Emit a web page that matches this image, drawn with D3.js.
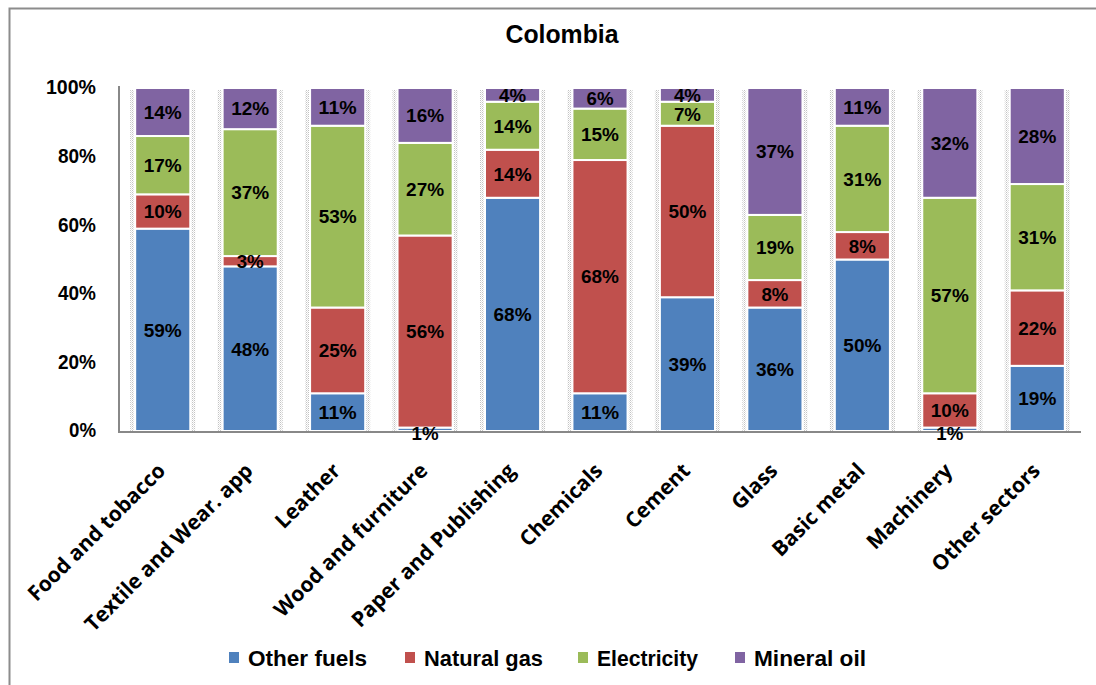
<!DOCTYPE html>
<html>
<head>
<meta charset="utf-8">
<script src="https://cdn.jsdelivr.net/npm/d3@7"></script>
<style>
  body { margin: 0; background: #fff; }
  svg { display: block; }
  text { font-family: "Liberation Sans", Arial, sans-serif; font-weight: bold; fill: #000; }
</style>
</head>
<body>
<svg id="chart" width="1096" height="685"></svg>
<script>
// Energy consumption shares by industrial sector, Colombia
const sectors = ["Food and tobacco", "Textile and Wear. app", "Leather", "Wood and furniture",
  "Paper and Publishing", "Chemicals", "Cement", "Glass", "Basic metal", "Machinery", "Other sectors"];
const seriesNames = ["Other fuels", "Natural gas", "Electricity", "Mineral oil"];
const otherFuels  = [59, 48, 11, 1, 68, 11, 39, 36, 50, 1, 19];
const naturalGas  = [10, 3, 25, 56, 14, 68, 50, 8, 8, 10, 22];
const electricity = [17, 37, 53, 27, 14, 15, 7, 19, 31, 57, 31];
const mineralOil  = [14, 12, 11, 16, 4, 6, 4, 37, 11, 32, 28];
const yTicks = [0, 20, 40, 60, 80, 100];
const colors = ["#4F81BD", "#C0504D", "#9BBB59", "#8064A2"];

const seriesValues = [otherFuels, naturalGas, electricity, mineralOil];
const rows = sectors.map((s, i) => {
  const r = { sector: s };
  seriesNames.forEach((n, k) => { r[n] = seriesValues[k][i]; });
  return r;
});

const svg = d3.select("#chart");
const plot = { left: 119, right: 1081, top: 88, bottom: 432 };

// narrow bold lettering: squeeze text to a width per character count
const narrowWidth = { 2: 27, 3: 38, 4: 50 };
function squeeze(sel) {
  sel.each(function () {
    const w = narrowWidth[this.textContent.length];
    if (w) d3.select(this).attr("textLength", w).attr("lengthAdjust", "spacingAndGlyphs");
  });
}

// chart frame
svg.append("rect").attr("x", 9.5).attr("y", 8.5).attr("width", 1100).attr("height", 700)
  .attr("fill", "none").attr("stroke", "#8c8c8c").attr("stroke-width", 2);

// dotted shading pattern beside each bar
const defs = svg.append("defs");
const pat = defs.append("pattern").attr("id", "dots").attr("patternUnits", "userSpaceOnUse")
  .attr("width", 2).attr("height", 2);
pat.append("rect").attr("width", 1).attr("height", 1).attr("fill", "#c4c4c4");
pat.append("rect").attr("x", 1).attr("y", 1).attr("width", 1).attr("height", 1).attr("fill", "#e2e2e2");

const x = d3.scaleBand().domain(sectors).range([plot.left, plot.right]).paddingInner(0.37).paddingOuter(0.185);
const y = d3.scaleLinear().domain([0, 100]).range([plot.bottom - 1, plot.top]);

const stacked = d3.stack().keys(seriesNames)(rows);

// title
svg.append("text").attr("x", 562).attr("y", 43).attr("text-anchor", "middle")
  .style("font-size", "25px").attr("textLength", 113).attr("lengthAdjust", "spacingAndGlyphs")
  .text("Colombia");

// side shading
svg.append("g").selectAll("rect").data(sectors).join("rect")
  .attr("x", d => x(d) - 5).attr("y", y(100) + 2).attr("width", x.bandwidth() + 10)
  .attr("height", y(0) - y(100) - 2).attr("fill", "url(#dots)");
svg.append("g").selectAll("rect").data(sectors).join("rect")
  .attr("x", d => x(d) - 1).attr("y", y(100) - 1).attr("width", x.bandwidth() + 2)
  .attr("height", y(0) - y(100) + 2).attr("fill", "#fff");

// stacked segments
const layers = svg.append("g").selectAll("g").data(stacked).join("g")
  .attr("fill", (d, i) => colors[i]);
layers.selectAll("rect").data(d => d).join("rect")
  .attr("x", d => x(d.data.sector))
  .attr("y", d => y(d[1]))
  .attr("width", x.bandwidth())
  .attr("height", d => Math.max(0, y(d[0]) - y(d[1])))
  .attr("stroke", "#fff").attr("stroke-width", 2);

// axes
const yAxis = d3.axisLeft(y).tickValues(yTicks).tickFormat(d => d + "%").tickSize(0).tickPadding(23);
const gy = svg.append("g").attr("transform", `translate(${plot.left},0)`).call(yAxis);
gy.select(".domain").attr("stroke", "#888").attr("stroke-width", 2).attr("d", `M0,${plot.top - 2}V${plot.bottom + 1}`);
gy.selectAll("text").style("font-size", "19.5px").attr("dy", "0.3em").call(squeeze);

const xAxis = d3.axisBottom(x).tickSize(0).tickPadding(0);
const gx = svg.append("g").attr("transform", `translate(0,${plot.bottom})`).call(xAxis);
gx.select(".domain").attr("stroke", "#888").attr("stroke-width", 2).attr("d", `M${plot.left},0H${plot.right}`);
gx.selectAll("text")
  .style("font-family", "'Open Sans', sans-serif").style("font-size", "21px")
  .attr("text-anchor", "end")
  .attr("transform", "translate(4,40) rotate(-45)")
  .attr("dy", "0").attr("y", 0);

// value labels, drawn above the axis lines
const labels = svg.append("g");
stacked.forEach(layer => {
  labels.selectAll(null).data(layer).join("text")
    .attr("x", d => x(d.data.sector) + x.bandwidth() / 2)
    .attr("y", d => y((d[0] + d[1]) / 2))
    .attr("dy", d => (d[1] - d[0]) < 2 ? "0.55em" : "0.36em")
    .attr("text-anchor", "middle")
    .style("font-size", "19px")
    .text(d => (d[1] - d[0]) + "%")
    .call(squeeze);
});

// legend
const legendX = [229, 405, 578, 735];
const legendW = [119, 119, 101, 112];
const lg = svg.append("g").selectAll("g").data(seriesNames).join("g")
  .attr("transform", (d, i) => `translate(${legendX[i]},658)`);
lg.append("rect").attr("x", 0).attr("y", -6).attr("width", 10).attr("height", 11)
  .attr("fill", (d, i) => colors[i]);
lg.append("text").attr("x", 19).attr("y", 0).attr("dy", "0.36em")
  .style("font-size", "22px")
  .attr("textLength", (d, i) => legendW[i]).attr("lengthAdjust", "spacingAndGlyphs")
  .text(d => d);
</script>
</body>
</html>
